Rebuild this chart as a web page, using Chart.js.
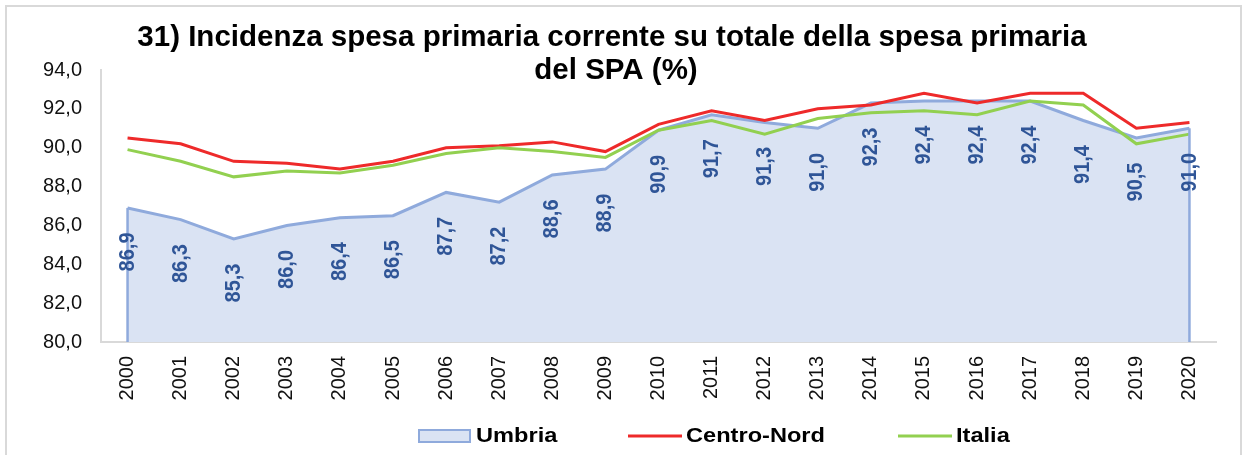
<!DOCTYPE html>
<html>
<head>
<meta charset="utf-8">
<script src="https://cdn.jsdelivr.net/npm/chart.js@4/dist/chart.umd.min.js"></script>
<style>
  html, body { margin: 0; padding: 0; background: #fff; }
  #wrap { position: relative; width: 1243px; height: 455px; }
</style>
</head>
<body>
<div id="wrap"><canvas id="c" width="1243" height="455"></canvas></div>
<script>
const years = ['2000','2001','2002','2003','2004','2005','2006','2007','2008','2009','2010',
               '2011','2012','2013','2014','2015','2016','2017','2018','2019','2020'];
const umbria     = [86.9, 86.3, 85.3, 86.0, 86.4, 86.5, 87.7, 87.2, 88.6, 88.9, 90.9,
                    91.7, 91.3, 91.0, 92.3, 92.4, 92.4, 92.4, 91.4, 90.5, 91.0];
const centroNord = [90.5, 90.2, 89.3, 89.2, 88.9, 89.3, 90.0, 90.1, 90.3, 89.8, 91.2,
                    91.9, 91.4, 92.0, 92.2, 92.8, 92.3, 92.8, 92.8, 91.0, 91.3];
const italia     = [89.9, 89.3, 88.5, 88.8, 88.7, 89.1, 89.7, 90.0, 89.8, 89.5, 90.9,
                    91.4, 90.7, 91.5, 91.8, 91.9, 91.7, 92.4, 92.2, 90.2, 90.7];
const seriesNames = ['Umbria', 'Centro-Nord', 'Italia'];
const titleLines = ['31) Incidenza spesa primaria corrente su totale della spesa primaria', 'del SPA (%)'];
const yMin = 80, yMax = 94, yStep = 2;

const FONT = "'Liberation Sans', Arial, sans-serif";
const C_FILL = '#dae3f3', C_UMB = '#8faadc', C_RED = '#ee2a2a', C_GREEN = '#92d050', C_LBL = '#2f5597';

const fmt = v => v.toFixed(1).replace('.', ',');

const custom = {
  id: 'custom',
  beforeDraw(chart) {
    const ctx = chart.ctx;
    ctx.save();
    ctx.strokeStyle = '#d9d9d9';
    ctx.lineWidth = 2;
    ctx.strokeRect(6, 6, 1235, 470);
    ctx.restore();
  },
  afterDatasetsDraw(chart) {
    const ctx = chart.ctx;
    const meta = chart.getDatasetMeta(0);
    const yb = chart.scales.y.getPixelForValue(yMin);
    const pts = meta.data;
    ctx.save();
    ctx.strokeStyle = C_UMB;
    ctx.lineWidth = 2.5;
    [pts[0], pts[pts.length - 1]].forEach(p => {
      ctx.beginPath(); ctx.moveTo(p.x, p.y); ctx.lineTo(p.x, yb); ctx.stroke();
    });
    // data labels
    ctx.fillStyle = C_LBL;
    ctx.font = 'bold 20px ' + FONT;
    ctx.textAlign = 'center';
    ctx.textBaseline = 'middle';
    pts.forEach((p, i) => {
      ctx.save();
      ctx.translate(p.x, p.y + 44);
      ctx.rotate(-Math.PI / 2);
      ctx.scale(1, 1.1);
      ctx.fillText(fmt(umbria[i]), 0, 0);
      ctx.restore();
    });
    ctx.restore();
  },
  afterDraw(chart) {
    const ctx = chart.ctx;
    ctx.save();
    // title
    ctx.fillStyle = '#000';
    ctx.font = 'bold 29.5px ' + FONT;
    ctx.textAlign = 'center';
    ctx.textBaseline = 'alphabetic';
    ctx.fillText(titleLines[0], 612, 46);
    ctx.fillText(titleLines[1], 616, 79);
    // legend
    const ly = 436;
    ctx.font = 'bold 20px ' + FONT;
    ctx.textAlign = 'left';
    ctx.textBaseline = 'middle';
    ctx.fillStyle = C_FILL; ctx.strokeStyle = C_UMB; ctx.lineWidth = 2;
    ctx.fillRect(419, 430, 51, 12); ctx.strokeRect(419, 430, 51, 12);
    const txt = (s, x) => { ctx.save(); ctx.translate(x, ly); ctx.scale(1.18, 1); ctx.fillStyle = '#000'; ctx.fillText(s, 0, 0); ctx.restore(); };
    txt(seriesNames[0], 476);
    ctx.strokeStyle = C_RED; ctx.lineWidth = 3;
    ctx.beginPath(); ctx.moveTo(628, ly); ctx.lineTo(682, ly); ctx.stroke();
    txt(seriesNames[1], 686);
    ctx.strokeStyle = C_GREEN;
    ctx.beginPath(); ctx.moveTo(898, ly); ctx.lineTo(952, ly); ctx.stroke();
    txt(seriesNames[2], 956);
    ctx.restore();
  }
};

new Chart(document.getElementById('c'), {
  type: 'line',
  data: {
    labels: years,
    datasets: [
      { label: seriesNames[0], data: umbria, borderColor: C_UMB, backgroundColor: C_FILL,
        borderWidth: 3, fill: 'start', pointRadius: 0, tension: 0, order: 3 },
      { label: seriesNames[1], data: centroNord, borderColor: C_RED, backgroundColor: C_RED,
        borderWidth: 3, fill: false, pointRadius: 0, tension: 0, order: 2 },
      { label: seriesNames[2], data: italia, borderColor: C_GREEN, backgroundColor: C_GREEN,
        borderWidth: 3, fill: false, pointRadius: 0, tension: 0, order: 1 }
    ]
  },
  options: {
    responsive: false,
    animation: false,
    layout: { padding: { top: 70, right: 27, left: 0, bottom: 0 } },
    plugins: { legend: { display: false }, title: { display: false }, tooltip: { enabled: false } },
    scales: {
      x: {
        offset: true,
        grid: { display: false, drawTicks: false },
        border: { display: true, color: '#d9d9d9', width: 2 },
        ticks: { color: '#111', font: { family: FONT, size: 20 }, minRotation: 90, maxRotation: 90, padding: 14, autoSkip: false },
        afterFit(s) { s.height = 113; }
      },
      y: {
        min: yMin, max: yMax,
        grid: { display: false, drawTicks: false },
        border: { display: true, color: '#d9d9d9', width: 2 },
        ticks: { stepSize: yStep, color: '#111', font: { family: FONT, size: 20 }, padding: 19,
                 callback: v => fmt(v) },
        afterFit(s) { s.width = 101; }
      }
    }
  },
  plugins: [custom]
});
</script>
</body>
</html>
